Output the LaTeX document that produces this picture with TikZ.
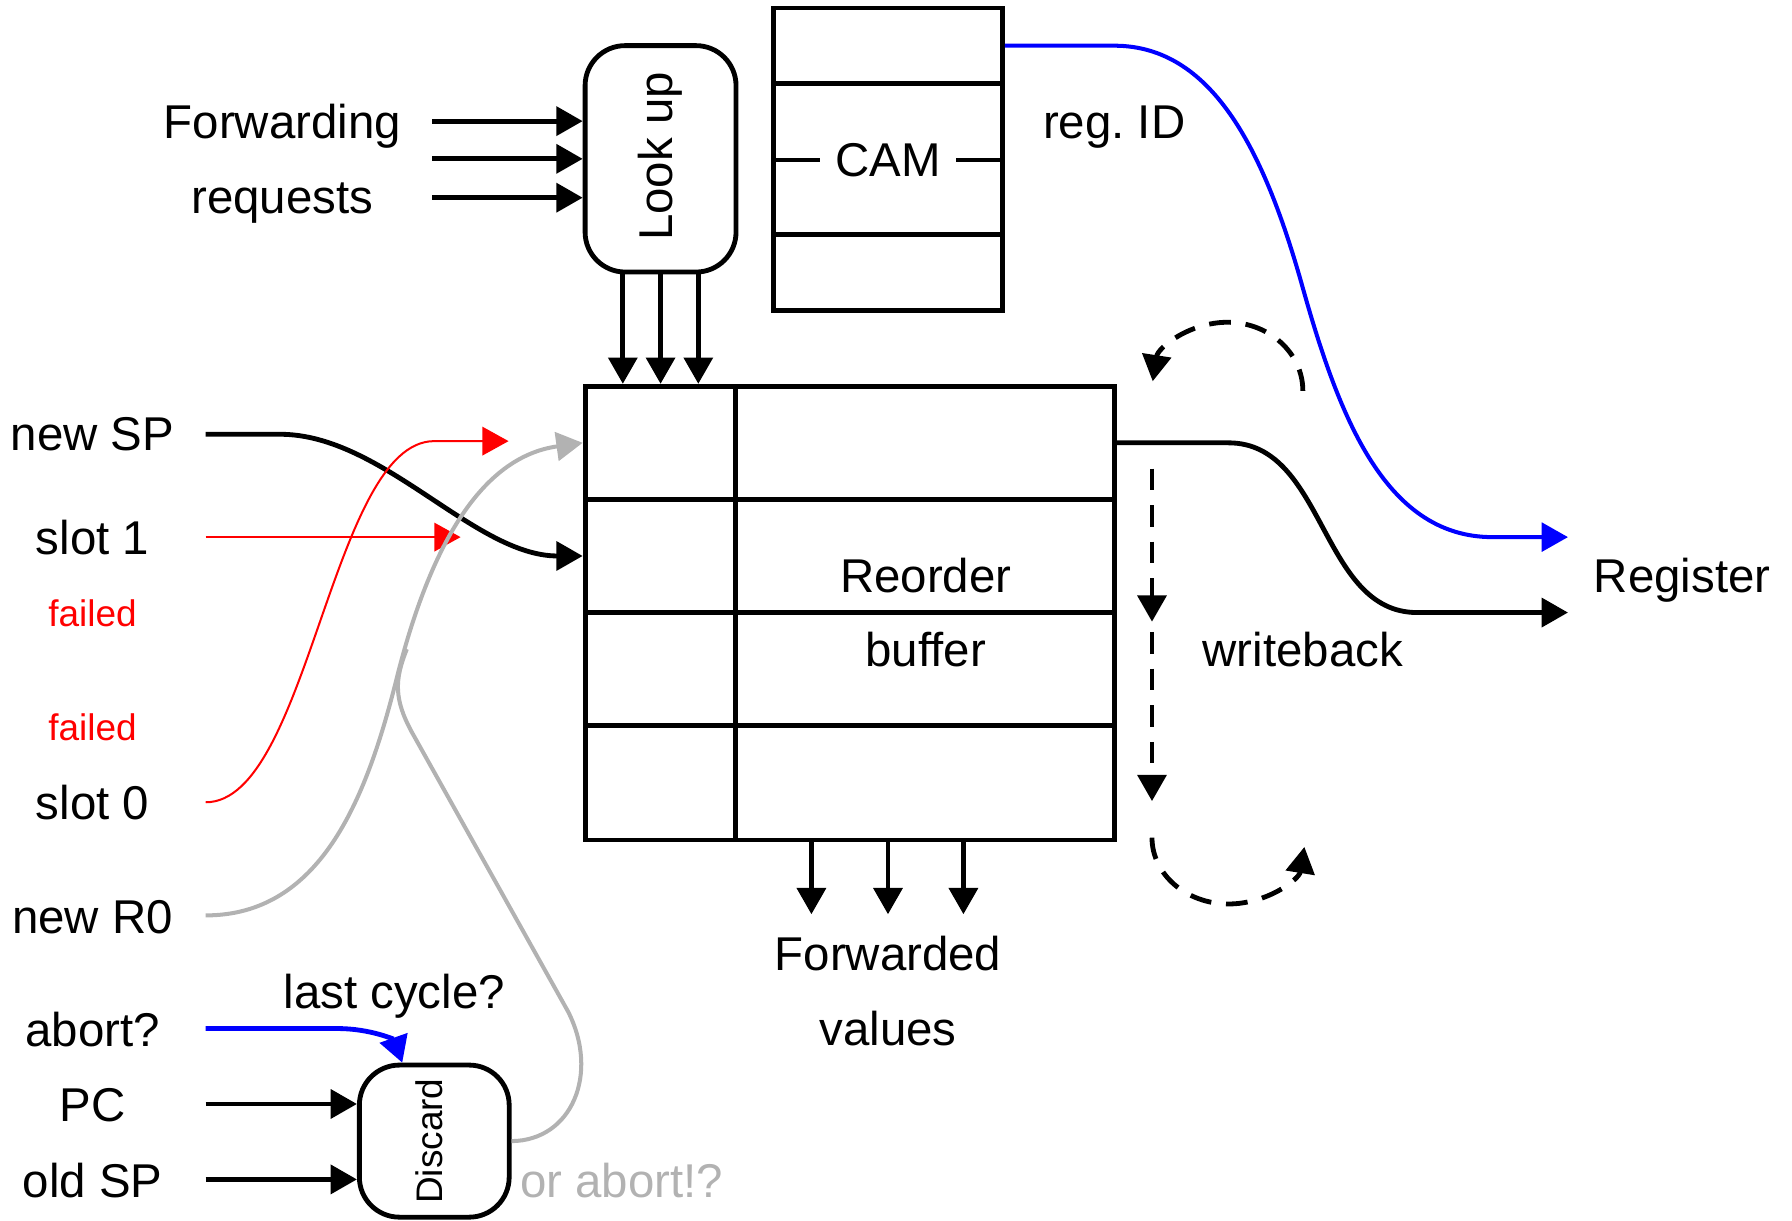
\documentclass[tikz,border=0pt]{standalone}
\usepackage{fontspec}
\setmainfont{Liberation Sans}
\usetikzlibrary{arrows.meta}

\begin{document}
\begin{tikzpicture}[x=0.01cm, y=-0.01cm,
        txt/.style={inner sep=0pt, font=\fontsize{11.8}{14}\selectfont, text height=0.29cm, text depth=0pt},
        small/.style={inner sep=0pt, font=\fontsize{9.2}{11}\selectfont, text height=0.232cm, text depth=0pt},
        cell/.style={draw, line width=1.2pt, inner sep=0pt},
        unit/.style={draw, line width=1.2pt, rounded corners=3.5mm, inner sep=0pt},
        wire/.style={line width=1.2pt, ->},
        wb/.style={line width=1.2pt, dash pattern=on 1.9mm off 1.3mm, ->},
        >={Triangle[length=2.3mm, width=2.5mm]}
    ]
        \useasboundingbox (0,0) rectangle (1568,1068);
        % Labels on the left
        \node[txt] (fwd) at (247,107) {Forwarding};
        \node[txt] (req) at (247,172) {requests};
        \node[txt] (nsp) at (81,380) {new SP};
        \node[txt] (s1) at (81,471) {slot 1};
        \node[small, text=red] (fail1) at (81,537) {failed};
        \node[small, text=red] (fail0) at (81,636) {failed};
        \node[txt] (s0) at (81,703) {slot 0};
        \node[txt] (nr0) at (81,802) {new R0};
        \node[txt] (abrt) at (81,901) {abort?};
        \node[txt] (pc) at (81,967) {PC};
        \node[txt] (osp) at (81,1033) {old SP};
        \node[txt] (last) at (345,868) {last cycle?};
        \node[txt, text=gray!60] (orab) at (544,1033) {or abort!?};
        % Look up unit and CAM
        \node[unit, minimum width=1.32cm, minimum height=1.98cm] (look) at (578,139) {};
        \node[txt, rotate=90] (looktxt) at (574,137) {Look up};
        \node[cell, minimum width=2cm, minimum height=0.66cm] (cam0) at (777,40) {};
        \node[cell, minimum width=2cm, minimum height=0.67cm] (cam1) at (777,106.5) {};
        \node[cell, minimum width=2cm, minimum height=0.65cm] (cam2) at (777,172.5) {};
        \node[cell, minimum width=2cm, minimum height=0.66cm] (cam3) at (777,238.5) {};
        \node[txt, fill=white, inner xsep=1.3mm, inner ysep=1mm] (camtxt) at (777,140) {CAM};
        \node[txt] (regid) at (975,107) {reg.\ ID};
        % Reorder buffer
        \node[cell, minimum width=1.32cm, minimum height=0.99cm] (c0) at (578,387.5) {};
        \node[cell, minimum width=1.32cm, minimum height=0.99cm] (c1) at (578,486.5) {};
        \node[cell, minimum width=1.32cm, minimum height=0.99cm] (c2) at (578,585.5) {};
        \node[cell, minimum width=1.32cm, minimum height=1cm] (c3) at (578,685) {};
        \node[cell, minimum width=3.31cm, minimum height=0.99cm] (r0) at (809.5,387.5) {};
        \node[cell, minimum width=3.31cm, minimum height=0.99cm] (r1) at (809.5,486.5) {};
        \node[cell, minimum width=3.31cm, minimum height=0.99cm] (r2) at (809.5,585.5) {};
        \node[cell, minimum width=3.31cm, minimum height=1cm] (r3) at (809.5,685) {};
        \node[txt] (rob1) at (810,504) {Reorder};
        \node[txt] (rob2) at (810,569) {buffer};
        \node[txt] (wbtxt) at (1140,569) {writeback};
        \node[txt] (reg) at (1472,504) {Register};
        \node[txt] (fv1) at (777,835) {Forwarded};
        \node[txt] (fv2) at (777,900) {values};
        % Discard unit
        \node[unit, minimum width=1.31cm, minimum height=1.33cm] (disc) at (380,998.5) {};
        \node[small, rotate=90] (disctxt) at (375.5,998.5) {Discard};
        % Free ends
        \coordinate (q1) at (378,106);
        \coordinate (q2) at (378,139);
        \coordinate (q3) at (378,173);
        \coordinate (inSP) at (180,380);
        \coordinate (in1) at (180,470);
        \coordinate (in0) at (180,702);
        \coordinate (inR0) at (180,801);
        \coordinate (inAb) at (180,900);
        \coordinate (inPC) at (180,966);
        \coordinate (inOld) at (180,1032);
        \coordinate (red1) at (403,470);
        \coordinate (red0) at (445,386);
        \coordinate (join) at (356,568);
        \coordinate (out1) at (710,800);
        \coordinate (out2) at (777,800);
        \coordinate (out3) at (843,800);
        \coordinate (regA) at (1372,470);
        \coordinate (regB) at (1372,536);
        \coordinate (wbA) at (1140,342);
        \coordinate (wbB) at (1008,410);
        \coordinate (wbC) at (1008,544);
        \coordinate (wbD) at (1008,553);
        \coordinate (wbE) at (1008,701);
        \coordinate (wbF) at (1008,733);
        % Requests into look up, look up into buffer
        \draw[wire] (q1) -- (q1 -| look.west);
        \draw[wire] (q2) -- (q2 -| look.west);
        \draw[wire] (q3) -- (q3 -| look.west);
        \draw[wire] ([xshift=-0.33cm]look.south) -- ([xshift=-0.33cm]c0.north);
        \draw[wire] (look.south) -- (c0.north);
        \draw[wire] ([xshift=0.33cm]look.south) -- ([xshift=0.33cm]c0.north);
        % Inputs of the buffer
        \draw[wire] (inSP) -- (245,380) .. controls (335,380) and (415,486.5) .. (c1.west);
        \draw[red, line width=0.5pt, ->] (in1) -- (red1);
        \draw[red, line width=0.5pt, ->] (in0) .. controls (270,702) and (290,386) .. (380,386) -- (red0);
        \draw[gray!60, line width=1pt, ->] (inR0) .. controls (280,801) and (320,700) .. (346,598) .. controls (375,480) and (420,400) .. (c0.west);
        \draw[gray!60, line width=1pt] (disc.east) .. controls (500,998) and (525,940) .. (497,885) -- (360,640) .. controls (345,612) and (345,595) .. (join);
        % Inputs of discard
        \draw[blue, line width=1.2pt, ->] (inAb) -- (295,900) .. controls (325,900) and (345,910) .. ([xshift=-0.28cm]disc.north);
        \draw[wire] (inPC) -- (inPC -| disc.west);
        \draw[wire] (inOld) -- (inOld -| disc.west);
        % Forwarded values
        \draw[wire] (out1 |- r3.south) -- (out1);
        \draw[wire] (out2 |- r3.south) -- (out2);
        \draw[wire] (out3 |- r3.south) -- (out3);
        % Writeback to register
        \draw[blue, line width=1pt, ->] (cam0.east) -- (975,40) .. controls (1060,40) and (1105,130) .. (1138,245) .. controls (1170,360) and (1210,470) .. (1306,470) -- (regA);
        \draw[wire] (r0.east) -- (1075,387.5) .. controls (1160,387.5) and (1155,536) .. (1240,536) -- (regB);
        \draw[wb] (wbA) arc[start angle=0, end angle=-172, x radius=66, y radius=60];
        \draw[wb] (wbB) -- (wbC);
        \draw[wb] (wbD) -- (wbE);
        \draw[wb] (wbF) arc[start angle=180, end angle=8, x radius=67, y radius=58];
    \end{tikzpicture}
\end{document}
